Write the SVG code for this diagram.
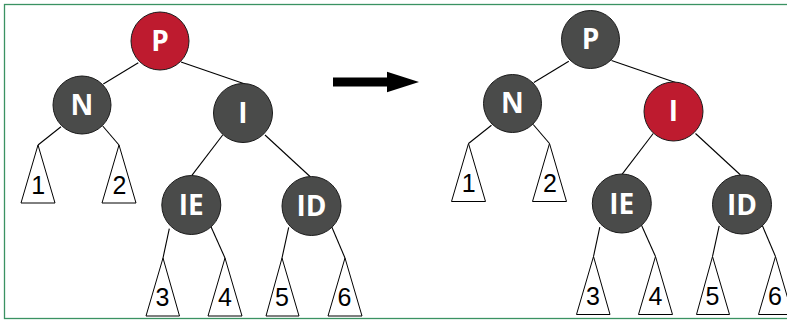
<svg xmlns="http://www.w3.org/2000/svg" width="787" height="321" viewBox="0 0 787 321">
<style>
.edge{stroke:#000;stroke-width:1.1;fill:none}
.dark{fill:#4a4b4a;stroke:#1a1a1a;stroke-width:1}
.red{fill:#be1b2f;stroke:#1a1a1a;stroke-width:1}
.lbl{font-family:"Open Sans","DejaVu Sans",sans-serif;font-weight:bold;font-size:28px;fill:#fff;text-anchor:middle}
.tri{fill:#fff;stroke:#000;stroke-width:1}
.num{font-family:"Liberation Sans",Arial,sans-serif;font-size:25px;fill:#000;text-anchor:middle}
</style>
<rect x="4.5" y="4.5" width="800" height="314" fill="#fff" stroke="#3a9262" stroke-width="1.3"/>
<polygon points="333,77.5 387,77.5 387,71.7 419,82 387,92.3 387,86.5 333,86.5" fill="#000"/>

<g id="left-tree">
<g id="connectors-left">
<line class="edge" x1="138.3" y1="62.7" x2="103.3" y2="84"/>
<line class="edge" x1="181" y1="62" x2="245" y2="84"/>
<line class="edge" x1="61" y1="126.7" x2="38" y2="145"/>
<line class="edge" x1="102.7" y1="126" x2="119" y2="145"/>
<line class="edge" x1="222.7" y1="135" x2="191.7" y2="175.7"/>
<line class="edge" x1="265" y1="135" x2="310" y2="176.5"/>
<line class="edge" x1="169.3" y1="228.7" x2="163" y2="258"/>
<line class="edge" x1="211" y1="226.7" x2="225" y2="258"/>
<line class="edge" x1="288.7" y1="227.3" x2="282" y2="258"/>
<line class="edge" x1="331.7" y1="226.7" x2="345" y2="258"/>
</g>
<g id="L-P"><circle class="red" cx="160" cy="41" r="29"/><text class="lbl" x="160" y="50.5">P</text></g>
<g id="L-N"><circle class="dark" cx="82" cy="105" r="29"/><text class="lbl" x="82" y="114.5">N</text></g>
<g id="L-I"><circle class="dark" cx="243" cy="113" r="29.5"/><text class="lbl" x="243" y="122.5">I</text></g>
<g id="L-IE"><circle class="dark" cx="191.3" cy="205" r="29.5"/><text class="lbl" x="191.3" y="215">IE</text></g>
<g id="L-ID"><circle class="dark" cx="311.5" cy="206" r="29.5"/><text class="lbl" x="311.5" y="216">ID</text></g>
<g id="L-T1"><polygon class="tri" points="38,145 55,203 21,203"/><text class="num" x="38.3" y="193.5">1</text></g>
<g id="L-T2"><polygon class="tri" points="119,145 136,203 102,203"/><text class="num" x="119.5" y="193.5">2</text></g>
<g id="L-T3"><polygon class="tri" points="163,258 179.5,316 146,316"/><text class="num" x="162.5" y="306">3</text></g>
<g id="L-T4"><polygon class="tri" points="225,258 242,316 208,316"/><text class="num" x="225" y="306">4</text></g>
<g id="L-T5"><polygon class="tri" points="282,258 299,316 266,316"/><text class="num" x="282" y="306">5</text></g>
<g id="L-T6"><polygon class="tri" points="345,258 362,316 328,316"/><text class="num" x="344.5" y="306">6</text></g>
</g>

<g id="right-tree" transform="translate(430.5,-1.5)">
<g id="connectors-right">
<line class="edge" x1="138.3" y1="62.7" x2="103.3" y2="84"/>
<line class="edge" x1="181" y1="62" x2="245" y2="84"/>
<line class="edge" x1="61" y1="126.7" x2="38" y2="145"/>
<line class="edge" x1="102.7" y1="126" x2="119" y2="145"/>
<line class="edge" x1="222.7" y1="135" x2="191.7" y2="175.7"/>
<line class="edge" x1="265" y1="135" x2="310" y2="176.5"/>
<line class="edge" x1="169.3" y1="228.7" x2="163" y2="258"/>
<line class="edge" x1="211" y1="226.7" x2="225" y2="258"/>
<line class="edge" x1="288.7" y1="227.3" x2="282" y2="258"/>
<line class="edge" x1="331.7" y1="226.7" x2="345" y2="258"/>
</g>
<g id="R-P"><circle class="dark" cx="160" cy="41" r="29"/><text class="lbl" x="160" y="50.5">P</text></g>
<g id="R-N"><circle class="dark" cx="82" cy="105" r="29"/><text class="lbl" x="82" y="114.5">N</text></g>
<g id="R-I"><circle class="red" cx="243" cy="113" r="29.5"/><text class="lbl" x="243" y="122.5">I</text></g>
<g id="R-IE"><circle class="dark" cx="191.3" cy="205" r="29.5"/><text class="lbl" x="191.3" y="215">IE</text></g>
<g id="R-ID"><circle class="dark" cx="311.5" cy="206" r="29.5"/><text class="lbl" x="311.5" y="216">ID</text></g>
<g id="R-T1"><polygon class="tri" points="38,145 55,203 21,203"/><text class="num" x="38.3" y="193.5">1</text></g>
<g id="R-T2"><polygon class="tri" points="119,145 136,203 102,203"/><text class="num" x="119.5" y="193.5">2</text></g>
<g id="R-T3"><polygon class="tri" points="163,258 179.5,316 146,316"/><text class="num" x="162.5" y="306">3</text></g>
<g id="R-T4"><polygon class="tri" points="225,258 242,316 208,316"/><text class="num" x="225" y="306">4</text></g>
<g id="R-T5"><polygon class="tri" points="282,258 299,316 266,316"/><text class="num" x="282" y="306">5</text></g>
<g id="R-T6"><polygon class="tri" points="345,258 362,316 328,316"/><text class="num" x="344.5" y="306">6</text></g>
</g>
</svg>
